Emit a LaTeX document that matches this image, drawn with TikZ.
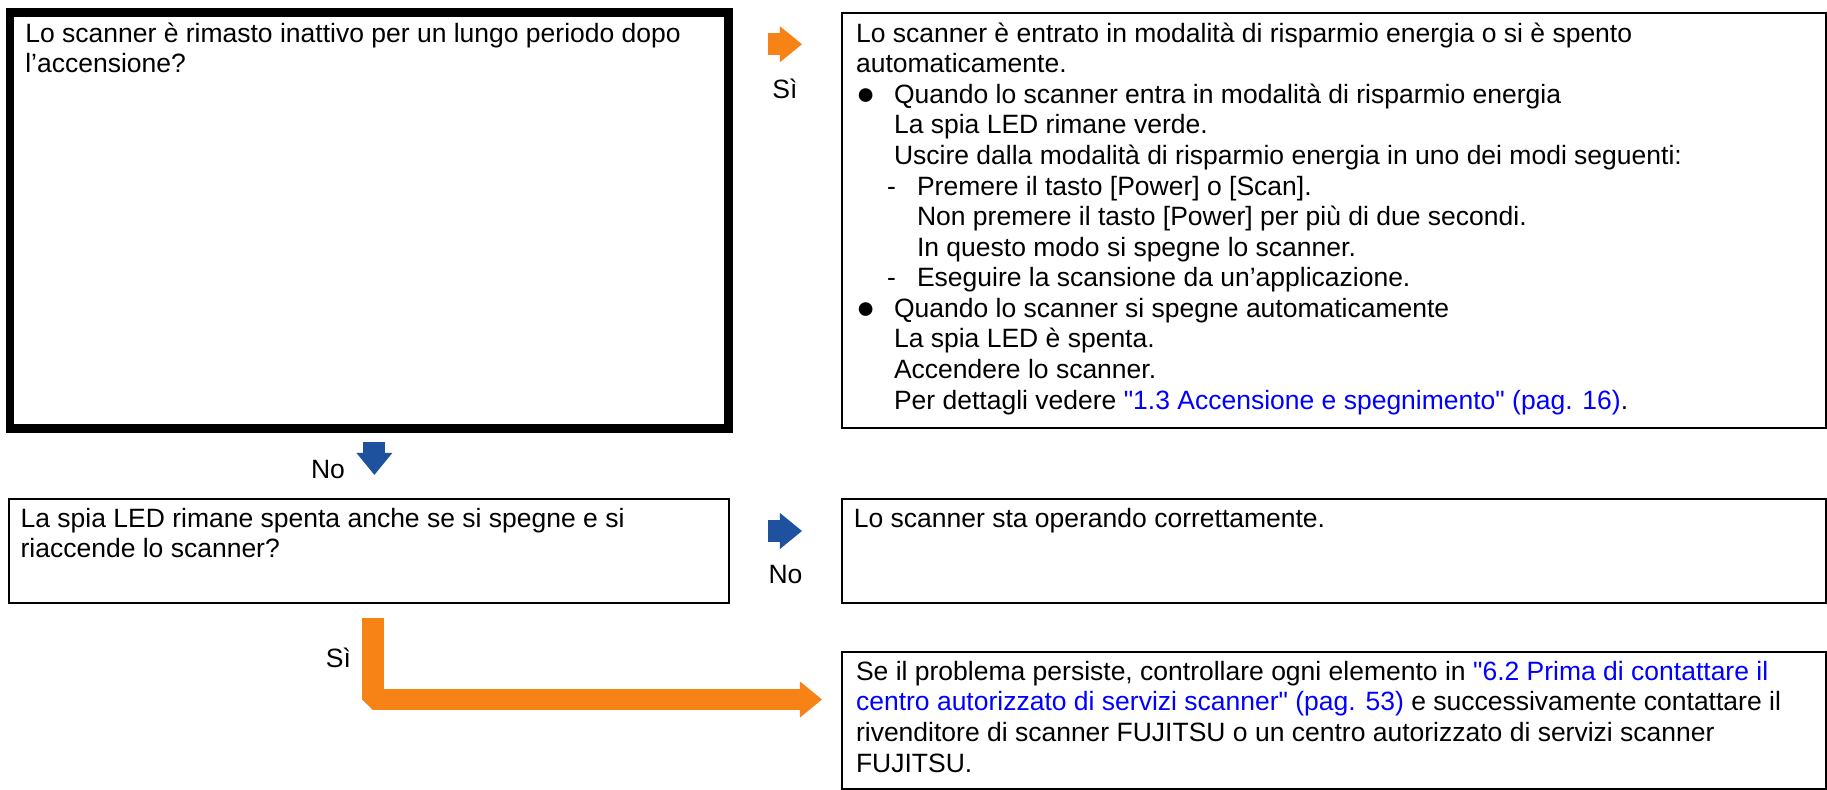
\documentclass[tikz,border=0pt]{standalone}
\usepackage{fontspec}
\setmainfont{Liberation Sans}
\usepackage{xcolor}
\usetikzlibrary{arrows.meta,calc,positioning}

\definecolor{yesorange}{RGB}{247,130,22}
\definecolor{noblue}{RGB}{30,82,158}
\definecolor{linkblue}{RGB}{0,0,255}
\newcommand{\bodyfont}{\fontsize{15.08pt}{17.41pt}\selectfont}
\newcommand{\ledbullet}{\makebox[0.76cm][l]{\raisebox{-0.06em}{\scalebox{1.2}{●}}}}
\newcommand{\leddash}{\hspace*{0.62cm}\makebox[0.6cm][l]{-}}
\newcommand{\pagelink}[1]{\textcolor{linkblue}{#1}}

\begin{document}
\begin{tikzpicture}[x=0.02cm, y=-0.02cm,
    qbox/.style={draw, line width=0.168cm, inner sep=0pt},
    abox/.style={draw, line width=0.045cm, inner sep=0pt},
    txt/.style={inner sep=0pt, anchor=north west, align=left, font=\bodyfont},
    lbl/.style={inner sep=0pt, anchor=base, font=\bodyfont},
    yesarrow/.style={yesorange, line width=0.44cm, -{Triangle[length=0.44cm, width=0.72cm, line width=0pt]}},
    noarrow/.style={noblue, line width=0.44cm, -{Triangle[length=0.44cm, width=0.72cm, line width=0pt]}}
]
\useasboundingbox (0,0) rectangle (1827,790);

% Question 1: scanner idle
\node[qbox, minimum width=14.37cm, minimum height=8.32cm] (q1) at (369.4,220.4) {};
\node[txt] (q1text) at (25,20.3) {\strut Lo scanner è rimasto inattivo per un lungo periodo dopo\\l’accensione?};

% Answer 1: power saving / auto power off
\node[abox, minimum width=19.68cm, minimum height=8.30cm] (a1) at (1334,220.5) {};
\node[txt] (a1text) at (855.7,20.3) {\strut Lo scanner è entrato in modalità di risparmio energia o si è spento\\
automaticamente.\\
\ledbullet Quando lo scanner entra in modalità di risparmio energia\\
\hspace*{0.76cm}La spia LED rimane verde.\\
\hspace*{0.76cm}Uscire dalla modalità di risparmio energia in uno dei modi seguenti:\\
\leddash Premere il tasto [Power] o [Scan].\\
\hspace*{1.22cm}Non premere il tasto [Power] per più di due secondi.\\
\hspace*{1.22cm}In questo modo si spegne lo scanner.\\
\leddash Eseguire la scansione da un’applicazione.\\
\ledbullet Quando lo scanner si spegne automaticamente\\
\hspace*{0.76cm}La spia LED è spenta.\\
\hspace*{0.76cm}Accendere lo scanner.\\
\hspace*{0.76cm}Per dettagli vedere \pagelink{\textquotedbl 1.3 Accensione e spegnimento\textquotedbl{} (pag. 16)}.};

% Yes: q1 -> a1
\coordinate (y1s) at ($(q1.north east)+(35,36)$);
\draw[yesarrow] (y1s) -- ($(y1s -| a1.west)+(-39,0)$);
\node[lbl] (y1lbl) at (785,98.3) {Sì};

% No: q1 -> q2
\coordinate (n1s) at ($(q1.south)+(5,9.3)$);
\node[lbl] (n1lbl) at (328,478.3) {No};

% Question 2: LED stays off
\node[abox, minimum width=14.40cm, minimum height=2.08cm] (q2) at (369,551) {};
\node[txt] (q2text) at (20.3,505.6) {\strut La spia LED rimane spenta anche se si spegne e si\\riaccende lo scanner?};
\draw[noarrow] (n1s) -- ($(n1s |- q2.north)+(0,-23)$);

% Answer 2: working correctly
\node[abox, minimum width=19.68cm, minimum height=2.08cm] (a2) at (1334,551) {};
\node[txt] (a2text) at (853.5,505.6) {\strut Lo scanner sta operando correttamente.};

% No: q2 -> a2
\coordinate (n2s) at ($(q2.east)+(38,-20)$);
\draw[noarrow] (n2s) -- ($(n2s -| a2.west)+(-39,0)$);
\node[lbl] (n2lbl) at (785.5,583.3) {No};

% Answer 3: contact the dealer
\node[abox, minimum width=19.68cm, minimum height=2.74cm] (a3) at (1334,720.5) {};
\node[txt] (a3text) at (855.7,658.6) {\strut Se il problema persiste, controllare ogni elemento in \pagelink{\textquotedbl 6.2 Prima di contattare il}\\
\pagelink{centro autorizzato di servizi scanner\textquotedbl{} (pag. 53)} e successivamente contattare il\\
rivenditore di scanner FUJITSU o un centro autorizzato di servizi scanner\\
FUJITSU.};

% Yes: q2 -> a3
\coordinate (y2s) at ($(q2.south)+(3.5,14)$);
\draw[yesarrow, line join=bevel] (y2s) |- ($(a3.west)+(-19,-21)$);
\node[lbl] (y2lbl) at (338.5,667.3) {Sì};

\end{tikzpicture}
\end{document}
